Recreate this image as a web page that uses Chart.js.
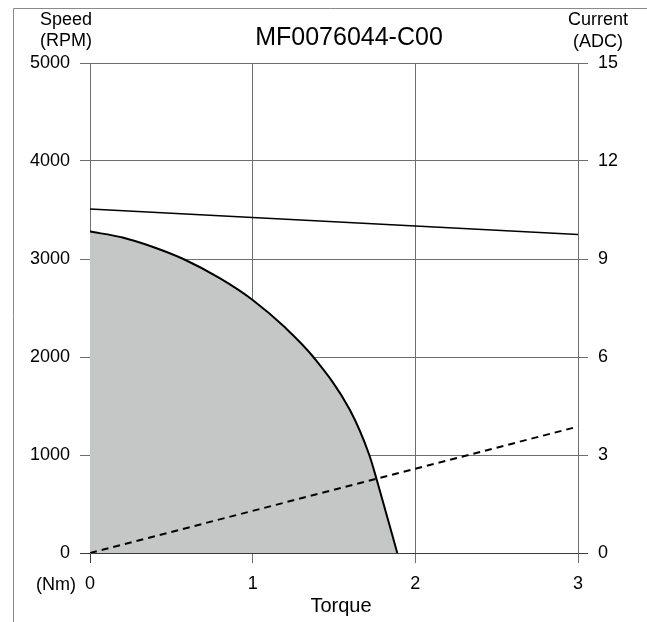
<!DOCTYPE html>
<html>
<head>
<meta charset="utf-8">
<script src="https://cdn.jsdelivr.net/npm/chart.js@4/dist/chart.umd.min.js"></script>
<style>
  html, body { margin: 0; padding: 0; background: #fff; }
  #wrap { width: 647px; height: 622px; }
</style>
</head>
<body>
<div id="wrap"><canvas id="c" width="647" height="622"></canvas></div>
<script>
// Motor MF0076044-C00: speed/torque envelope, speed line and current line
const torqueTicks = [0, 1, 2, 3];
const speedTicks = [0, 1000, 2000, 3000, 4000, 5000];
const currentTicks = [0, 3, 6, 9, 12, 15];

// Continuous operating envelope (torque Nm -> speed RPM)
const envTorque = [0, 0.2, 0.379, 0.574, 0.8, 1.0, 1.2, 1.373, 1.598, 1.717, 1.762, 1.889];
const envSpeed  = [3280, 3220, 3128, 3000, 2802, 2582, 2300, 2000, 1459, 1000, 752, 0];

// Speed line (torque Nm -> speed RPM)
const lineTorque = [0, 3];
const lineSpeed  = [3510, 3250];

// Current (torque Nm -> current ADC)
const curTorque = [0, 3];
const curAmps   = [0, 3.87];

const pts = (xs, ys) => xs.map((x, i) => ({ x: x, y: ys[i] }));

const FONT = 'Liberation Sans, Arial, sans-serif';
const gridColor = ctx => (ctx.tick && ctx.tick.value === 0) ? '#3a3a3a' : '#6f6f6f';
const plainLabel = v => String(v);

const annotations = {
  id: 'annotations',
  afterDraw(chart) {
    const c = chart.ctx;
    c.save();
    // frame lines
    c.strokeStyle = '#8a8a8a';
    c.lineWidth = 1;
    c.beginPath();
    c.moveTo(13.5, 622);
    c.lineTo(13.5, 8.5);
    c.lineTo(647, 8.5);
    c.stroke();

    c.fillStyle = '#000';
    c.textBaseline = 'middle';
    c.textAlign = 'center';
    c.font = '25px ' + FONT;
    c.fillText('MF0076044-C00', 349, 38);

    c.font = '18px ' + FONT;
    c.fillText('Speed', 66, 20);
    c.fillText('(RPM)', 66, 41);
    c.fillText('Current', 598, 20);
    c.fillText('(ADC)', 598, 42);
    c.fillText('(Nm)', 56, 585);

    c.font = '20px ' + FONT;
    c.fillText('Torque', 341, 606);
    c.restore();
  }
};

new Chart(document.getElementById('c'), {
  type: 'line',
  data: {
    // drawn last-to-first: the shaded envelope goes underneath the lines
    datasets: [
      {
        data: pts(curTorque, curAmps),
        yAxisID: 'y2',
        borderColor: '#000',
        borderWidth: 2,
        borderDash: [7, 5],
        fill: false,
        pointRadius: 0
      },
      {
        data: pts(lineTorque, lineSpeed),
        yAxisID: 'y',
        borderColor: '#000',
        borderWidth: 1.6,
        fill: false,
        pointRadius: 0
      },
      {
        data: pts(envTorque, envSpeed),
        yAxisID: 'y',
        borderColor: '#000',
        borderWidth: 2,
        backgroundColor: '#c5c6c6',
        fill: 'origin',
        pointRadius: 0,
        cubicInterpolationMode: 'monotone'
      }
    ]
  },
  options: {
    responsive: false,
    devicePixelRatio: 1,
    animation: false,
    events: [],
    layout: { padding: { top: 63, left: 0, right: 0, bottom: 0 } },
    plugins: { legend: { display: false }, tooltip: { enabled: false } },
    scales: {
      x: {
        type: 'linear',
        min: 0, max: 3,
        z: 1,
        afterBuildTicks: s => { s.ticks = torqueTicks.map(v => ({ value: v })); },
        afterFit: s => { s.height = 69; },
        ticks: { color: '#000', font: { family: FONT, size: 18 }, padding: 10, maxRotation: 0, callback: plainLabel },
        grid: { color: gridColor, lineWidth: 1, tickLength: 10 },
        border: { color: '#3a3a3a' }
      },
      y: {
        type: 'linear',
        position: 'left',
        min: 0, max: 5000,
        z: 1,
        afterBuildTicks: s => { s.ticks = speedTicks.map(v => ({ value: v })); },
        afterFit: s => { s.width = 90; },
        ticks: { color: '#000', font: { family: FONT, size: 18 }, padding: 10, callback: plainLabel },
        grid: { color: gridColor, lineWidth: 1, tickLength: 10 },
        border: { color: '#6f6f6f' }
      },
      y2: {
        type: 'linear',
        position: 'right',
        min: 0, max: 15,
        z: 1,
        afterBuildTicks: s => { s.ticks = currentTicks.map(v => ({ value: v })); },
        afterFit: s => { s.width = 69; },
        ticks: { color: '#000', font: { family: FONT, size: 18 }, padding: 10, callback: plainLabel },
        grid: { drawOnChartArea: false, color: gridColor, lineWidth: 1, tickLength: 10 },
        border: { color: '#6f6f6f' }
      }
    }
  },
  plugins: [annotations]
});
</script>
</body>
</html>
